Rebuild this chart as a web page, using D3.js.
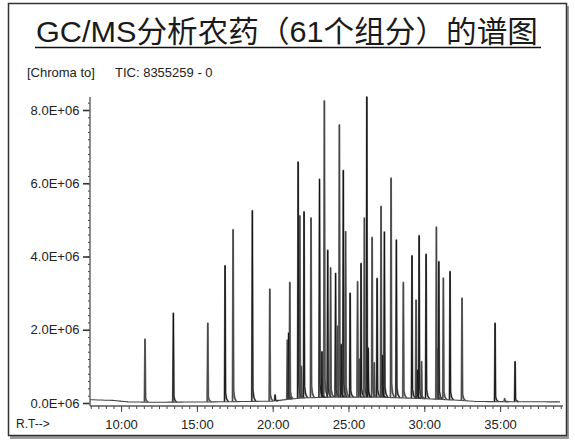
<!DOCTYPE html>
<html>
<head>
<meta charset="utf-8">
<script src="https://cdn.jsdelivr.net/npm/d3@7"></script>
<style>
  body { margin: 0; background: #fff; }
  text { font-family: "Liberation Sans", Arial, "Noto Sans CJK SC", sans-serif; fill: #222; }
</style>
</head>
<body>
<div id="chart"></div>
<script>
// peak retention times (min) and apex heights (counts)
const peakTimes = [11.58, 13.45, 15.72, 16.86, 17.39, 18.66, 19.81, 20.16, 20.97, 21.05,
  21.13, 21.68, 21.79, 22.07, 22.53, 23.09, 23.41, 23.63, 23.82, 24.15,
  24.40, 24.66, 24.81, 25.11, 25.60, 25.83, 26.05, 26.21, 26.56, 26.89,
  27.15, 27.37, 27.81, 28.16, 28.62, 29.19, 29.46, 29.66, 29.82, 30.12,
  30.80, 30.96, 31.26, 31.70, 32.49, 34.67, 35.30, 35.99,
  21.90, 23.25, 24.28, 24.52, 25.70, 26.30, 26.70, 27.25, 30.88, 29.55];
const peakHeights = [1.74e6, 2.45e6, 2.18e6, 3.75e6, 4.73e6, 5.25e6, 3.11e6, 0.22e6, 1.72e6, 1.91e6,
  3.29e6, 6.58e6, 5.11e6, 5.22e6, 5.05e6, 6.11e6, 8.25e6, 4.17e6, 3.69e6, 3.54e6,
  7.59e6, 6.35e6, 4.68e6, 3.00e6, 3.31e6, 3.81e6, 5.05e6, 8.355e6, 4.52e6, 3.40e6,
  5.37e6, 4.67e6, 6.14e6, 4.45e6, 3.29e6, 4.02e6, 2.81e6, 4.57e6, 1.13e6, 4.06e6,
  4.80e6, 3.86e6, 3.41e6, 3.59e6, 2.86e6, 2.18e6, 0.12e6, 1.13e6,
  1.00e6, 1.40e6, 2.10e6, 1.60e6, 1.20e6, 1.50e6, 1.10e6, 1.30e6, 1.50e6, 0.90e6];

// baseline drift of the TIC trace
const baseTimes = [7.95, 9.5, 10.5, 12, 16, 20, 21, 22, 24, 27, 30, 32.5, 33.5, 39.15];
const baseValues = [0.09e6, 0.07e6, 0.03e6, 0.02e6, 0.03e6, 0.05e6, 0.1e6, 0.14e6, 0.16e6, 0.16e6, 0.12e6, 0.07e6, 0.04e6, 0.03e6];

const xTicks = [10, 15, 20, 25, 30, 35];
const xTickLabels = ["10:00", "15:00", "20:00", "25:00", "30:00", "35:00"];
const yTicks = [0, 2e6, 4e6, 6e6, 8e6];
const yTickLabels = ["0.0E+06", "2.0E+06", "4.0E+06", "6.0E+06", "8.0E+06"];

const width = 575, height = 443;
const svg = d3.select("#chart").append("svg")
  .attr("width", width).attr("height", height);

// frame with a soft shadow
svg.append("rect").attr("x", 10).attr("y", 6).attr("width", 559).attr("height", 433).attr("fill", "#9a9a9a");
svg.append("rect").attr("x", 8.5).attr("y", 3.5).attr("width", 558).attr("height", 432)
  .attr("fill", "#fff").attr("stroke", "#333").attr("stroke-width", 1.5);

svg.append("text")
  .attr("x", 36).attr("y", 42)
  .attr("font-size", 30)
  .attr("textLength", 502).attr("lengthAdjust", "spacingAndGlyphs")
  .style("fill", "#1a1a1a")
  .text("GC/MS分析农药（61个组分）的谱图");
svg.append("line").attr("x1", 35).attr("x2", 541).attr("y1", 47.5).attr("y2", 47.5)
  .attr("stroke", "#111").attr("stroke-width", 1.5);

svg.append("text").attr("x", 27).attr("y", 77).attr("font-size", 13).text("[Chroma to]");
svg.append("text").attr("x", 115).attr("y", 77).attr("font-size", 13).text("TIC: 8355259 - 0");

const x = d3.scaleLinear().domain([7.95, 39.15]).range([90, 563]);
const y = d3.scaleLinear().domain([0, 8355259]).range([403, 97]);
const axisY = 406;

// baseline as piecewise linear scale
const base = d3.scaleLinear().domain(baseTimes).range(baseValues);

// axes
const gx = svg.append("g").attr("transform", `translate(0,${axisY})`);
gx.call(d3.axisBottom(x).tickValues(d3.range(8, 39.01, 0.5)).tickSize(3).tickFormat(""));
gx.append("g").call(d3.axisBottom(x).tickValues(xTicks).tickSize(6)
  .tickFormat((d, i) => xTickLabels[i]));
gx.selectAll(".domain").remove();
gx.selectAll("line").attr("stroke", "#444");
gx.selectAll("text").attr("font-size", 13).attr("dy", "1.05em").style("fill", "#222");
gx.append("line").attr("x1", x.range()[0]).attr("x2", x.range()[1])
  .attr("stroke", "#555").attr("stroke-width", 1.5);

const gy = svg.append("g").attr("transform", `translate(${x.range()[0]},0)`);
gy.call(d3.axisLeft(y).tickValues(d3.range(0, 8355259, 2e5)).tickSize(2).tickFormat(""));
gy.append("g").call(d3.axisLeft(y).tickValues(yTicks).tickSize(7)
  .tickFormat((d, i) => yTickLabels[i]));
gy.selectAll(".domain").remove();
gy.selectAll("line").attr("stroke", "#333");
gy.selectAll("g > g > g line").attr("stroke-width", 1.6);
gy.selectAll("text").attr("font-size", 13).attr("dx", "-0.05em").style("fill", "#222");
gy.append("line").attr("y1", y.range()[1]).attr("y2", axisY)
  .attr("stroke", "#666").attr("stroke-width", 1.5);

// baseline trace
const line = d3.line().x(d => x(d[0])).y(d => y(d[1]));
const baseRes = d3.range(7.95, 39.15, 0.25).map(t => [t, base(t)]);
svg.append("path").attr("d", line(baseRes))
  .attr("fill", "none").attr("stroke", "#444").attr("stroke-width", 1.1);

// peaks: sharp rise, slight tailing at the foot
const peaks = peakTimes.map((t, i) => ({ t, h: peakHeights[i] }));
const peakPath = d => line([
  [d.t - 0.04, base(d.t - 0.04)],
  [d.t, d.h],
  [d.t + 0.035, base(d.t) + d.h * 0.06],
  [d.t + 0.1, base(d.t) + d.h * 0.02],
  [d.t + 0.22, base(d.t + 0.22)]
]);
const pg = svg.append("g");
pg.selectAll("path.wide").data(peaks).enter().append("path")
  .attr("class", "wide")
  .attr("d", peakPath)
  .attr("fill", "none")
  .attr("stroke", "#7a7a7a")
  .attr("stroke-width", 1.9)
  .attr("stroke-linejoin", "round");
pg.selectAll("path.core").data(peaks).enter().append("path")
  .attr("class", "core")
  .attr("d", peakPath)
  .attr("fill", "none")
  .attr("stroke", (d, i) => i % 2 ? "#111" : "#444")
  .attr("stroke-width", 0.9)
  .attr("stroke-linejoin", "round");

svg.append("text").attr("x", 16).attr("y", 428).attr("font-size", 12).text("R.T-->");
</script>
</body>
</html>
